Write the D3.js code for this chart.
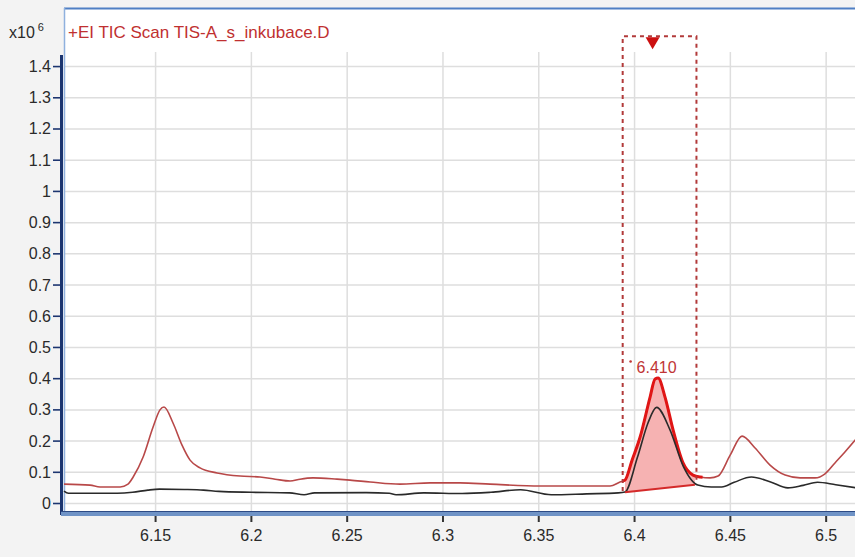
<!DOCTYPE html>
<html>
<head>
<meta charset="utf-8">
<script src="https://cdn.jsdelivr.net/npm/d3@7"></script>
<style>
  html, body { margin: 0; padding: 0; background: #f3f3f3; }
  svg { display: block; }
  text { font-family: "Liberation Sans", Arial, sans-serif; }
</style>
</head>
<body>
<svg id="chart" width="855" height="557"></svg>
<script>
// ---------- data ----------
const titleText = "+EI TIC Scan TIS-A_s_inkubace.D";
const xTicks = [6.15, 6.2, 6.25, 6.3, 6.35, 6.4, 6.45, 6.5];
const xTickLabels = ["6.15", "6.2", "6.25", "6.3", "6.35", "6.4", "6.45", "6.5"];
const yTicks = [0, 0.1, 0.2, 0.3, 0.4, 0.5, 0.6, 0.7, 0.8, 0.9, 1, 1.1, 1.2, 1.3, 1.4];
const yTickLabels = ["0", "0.1", "0.2", "0.3", "0.4", "0.5", "0.6", "0.7", "0.8", "0.9", "1", "1.1", "1.2", "1.3", "1.4"];

// red trace (TIC, x10^6)
const redTime = [6.1022, 6.1158, 6.121, 6.1315, 6.1356, 6.1383, 6.1435, 6.1487, 6.1523, 6.1544, 6.1591, 6.1638, 6.168, 6.1732, 6.1821, 6.1941, 6.2045, 6.2124, 6.2202, 6.2254, 6.2322, 6.2447, 6.2515, 6.262, 6.2776, 6.2933, 6.3089, 6.3246, 6.3507, 6.3716, 6.3872, 6.3924, 6.395, 6.3987, 6.4029, 6.4081, 6.4107, 6.4123, 6.4159, 6.4201, 6.4253, 6.4305, 6.4342, 6.4394, 6.4436, 6.4499, 6.4561, 6.4629, 6.4707, 6.4786, 6.4864, 6.4942, 6.4994, 6.5046, 6.5098, 6.5161];
const redValue = [0.062, 0.059, 0.053, 0.053, 0.062, 0.085, 0.149, 0.245, 0.300, 0.309, 0.258, 0.187, 0.139, 0.114, 0.098, 0.088, 0.085, 0.078, 0.072, 0.078, 0.082, 0.078, 0.075, 0.069, 0.062, 0.066, 0.066, 0.062, 0.056, 0.056, 0.056, 0.069, 0.075, 0.139, 0.213, 0.341, 0.399, 0.402, 0.341, 0.236, 0.130, 0.091, 0.085, 0.082, 0.088, 0.155, 0.216, 0.178, 0.123, 0.091, 0.082, 0.082, 0.095, 0.130, 0.165, 0.210];

// black trace
const blackTime = [6.1022, 6.1045, 6.130, 6.138, 6.146, 6.152, 6.165, 6.175, 6.183, 6.200, 6.220, 6.2275, 6.233, 6.260, 6.272, 6.2755, 6.290, 6.310, 6.325, 6.3405, 6.3565, 6.375, 6.3915, 6.395, 6.4015, 6.407, 6.4115, 6.4185, 6.4255, 6.433, 6.440, 6.4455, 6.452, 6.461, 6.471, 6.480, 6.488, 6.4955, 6.505, 6.5161];
const blackValue = [0.040, 0.033, 0.033, 0.036, 0.043, 0.046, 0.045, 0.043, 0.039, 0.036, 0.034, 0.028, 0.034, 0.035, 0.033, 0.028, 0.034, 0.032, 0.036, 0.044, 0.028, 0.031, 0.034, 0.037, 0.148, 0.258, 0.308, 0.236, 0.118, 0.059, 0.053, 0.053, 0.068, 0.085, 0.069, 0.050, 0.058, 0.068, 0.060, 0.050];

// integrated peak
const peakLabel = "6.410";
const peakTime = 6.4115;
const integStart = [6.395, 0.036];
const integEnd = [6.4315, 0.060];
const boxLeft = 6.3938, boxRight = 6.4323, boxTop = 1.497;
const boxLeftBottom = 0.040, boxRightBottom = 0.075;

// ---------- layout ----------
const W = 855, H = 557;
const plot = { left: 64, right: 857, top: 8, bottom: 512 };
const svg = d3.select("#chart");

const x = d3.scaleLinear().domain([6.1022, 6.5161]).range([plot.left, plot.right]);
const y = d3.scaleLinear().domain([-0.0272, 1.5877]).range([plot.bottom, plot.top]);

svg.append("rect").attr("x", 0).attr("y", 0).attr("width", W).attr("height", H).attr("fill", "#f3f3f3");
svg.append("rect").attr("x", plot.left).attr("y", plot.top)
  .attr("width", plot.right - plot.left).attr("height", plot.bottom - plot.top)
  .attr("fill", "#ffffff");

// grid
const gridTop = 52;
svg.append("g").selectAll("line").data(yTicks).join("line")
  .attr("x1", plot.left).attr("x2", plot.right)
  .attr("y1", d => y(d)).attr("y2", d => y(d))
  .attr("stroke", "#dedede").attr("stroke-width", 1.5);
svg.append("g").selectAll("line").data(xTicks).join("line")
  .attr("x1", d => x(d)).attr("x2", d => x(d))
  .attr("y1", gridTop).attr("y2", plot.bottom)
  .attr("stroke", "#dedede").attr("stroke-width", 1.5);

// frame
svg.append("line").attr("x1", plot.left).attr("x2", W).attr("y1", plot.top + 0.5).attr("y2", plot.top + 0.5)
  .attr("stroke", "#4f7fc4").attr("stroke-width", 2);
svg.append("line").attr("x1", plot.left + 0.5).attr("x2", plot.left + 0.5).attr("y1", plot.top).attr("y2", plot.bottom)
  .attr("stroke", "#8fb1de").attr("stroke-width", 1.5);

// curves
const line = d3.line().x(d => x(d[0])).y(d => y(d[1])).curve(d3.curveMonotoneX);
const redData = redTime.map((t, i) => [t, redValue[i]]);
const blackData = blackTime.map((t, i) => [t, blackValue[i]]);

function interp(data, t) {
  for (let i = 1; i < data.length; i++) {
    if (data[i][0] >= t) {
      const a = data[i - 1], b = data[i];
      const f = (t - a[0]) / (b[0] - a[0]);
      return a[1] + f * (b[1] - a[1]);
    }
  }
  return data[data.length - 1][1];
}
const baseAt = t => integStart[1] + (t - integStart[0]) / (integEnd[0] - integStart[0]) * (integEnd[1] - integStart[1]);
const peakData = [[integStart[0], interp(redData, integStart[0])]]
  .concat(redData.filter(d => d[0] > integStart[0] && d[0] < integEnd[0]))
  .concat([[integEnd[0], interp(redData, integEnd[0])]]);

const area = d3.area().x(d => x(d[0])).y0(d => y(baseAt(d[0]))).y1(d => y(d[1])).curve(d3.curveMonotoneX);
svg.append("path").datum(peakData).attr("d", area).attr("fill", "#f6b2b2");

svg.append("path").datum(redData).attr("d", line)
  .attr("fill", "none").attr("stroke", "#b84848").attr("stroke-width", 1.6);

// highlighted integrated part
const hiData = [[integStart[0] - 0.0015, interp(redData, integStart[0] - 0.0015)]]
  .concat(redData.filter(d => d[0] > integStart[0] - 0.0015 && d[0] < integEnd[0] + 0.004))
  .concat([[integEnd[0] + 0.004, interp(redData, integEnd[0] + 0.004)]]);
svg.append("path").datum(hiData).attr("d", line)
  .attr("fill", "none").attr("stroke", "#e01515").attr("stroke-width", 3);

svg.append("path").datum(blackData).attr("d", line)
  .attr("fill", "none").attr("stroke", "#2a2a2a").attr("stroke-width", 1.6);

// baseline
svg.append("line")
  .attr("x1", x(integStart[0])).attr("y1", y(integStart[1]))
  .attr("x2", x(integEnd[0])).attr("y2", y(integEnd[1]))
  .attr("stroke", "#d42a2a").attr("stroke-width", 2);

// dashed integration box
const boxPath = d3.path();
boxPath.moveTo(x(boxLeft), y(boxLeftBottom));
boxPath.lineTo(x(boxLeft), y(boxTop));
boxPath.lineTo(x(boxRight), y(boxTop));
boxPath.lineTo(x(boxRight), y(boxRightBottom));
svg.append("path").attr("d", boxPath.toString())
  .attr("fill", "none").attr("stroke", "#b23a3a").attr("stroke-width", 2)
  .attr("stroke-dasharray", "4,4");

// triangle marker
const tx = x(peakTime) - 4, ty = y(boxTop);
svg.append("path")
  .attr("d", `M${tx - 7},${ty + 1}L${tx + 7},${ty + 1}L${tx},${ty + 13}Z`)
  .attr("fill", "#cc1010");

// peak label
svg.append("circle").attr("cx", x(peakTime) - 26).attr("cy", y(0.455)).attr("r", 1.3).attr("fill", "#c03535");
svg.append("text").attr("x", x(peakTime)).attr("y", y(0.418))
  .attr("text-anchor", "middle").attr("font-size", 16).attr("fill", "#c03535")
  .text(peakLabel);

// y axis
svg.append("line").attr("x1", plot.left - 2.5).attr("x2", plot.left - 2.5).attr("y1", 55).attr("y2", plot.bottom + 3)
  .attr("stroke", "#1c3570").attr("stroke-width", 3);
const yAxis = svg.append("g");
yAxis.selectAll("line").data(yTicks).join("line")
  .attr("x1", plot.left - 11).attr("x2", plot.left - 3)
  .attr("y1", d => y(d)).attr("y2", d => y(d))
  .attr("stroke", "#1c3570").attr("stroke-width", 1.6);
yAxis.selectAll("text").data(yTicks).join("text")
  .attr("x", plot.left - 13).attr("y", d => y(d) + 5.5)
  .attr("text-anchor", "end").attr("font-size", 16).attr("fill", "#2a2a2a")
  .text((d, i) => yTickLabels[i]);

// x axis bar
svg.append("rect").attr("x", plot.left - 3).attr("y", plot.bottom - 1).attr("width", W).attr("height", 5)
  .attr("fill", "#6f93c6");
svg.append("line").attr("x1", plot.left - 3).attr("x2", W).attr("y1", plot.bottom - 0.5).attr("y2", plot.bottom - 0.5)
  .attr("stroke", "#2c4a84").attr("stroke-width", 1.2);
const xAxis = svg.append("g");
xAxis.selectAll("line").data(xTicks).join("line")
  .attr("x1", d => x(d)).attr("x2", d => x(d))
  .attr("y1", plot.bottom + 4).attr("y2", plot.bottom + 10)
  .attr("stroke", "#333").attr("stroke-width", 2);
xAxis.selectAll("text").data(xTicks).join("text")
  .attr("x", d => x(d)).attr("y", 541)
  .attr("text-anchor", "middle").attr("font-size", 16).attr("fill", "#2a2a2a")
  .text((d, i) => xTickLabels[i]);

// y unit & title
const unit = svg.append("text").attr("x", 9).attr("y", 38).attr("font-size", 16).attr("fill", "#2a2a2a");
unit.append("tspan").text("x10");
unit.append("tspan").attr("font-size", 11).attr("dy", -7).attr("dx", 3).text("6");
svg.append("text").attr("x", 68).attr("y", 38).attr("font-size", 17).attr("fill", "#c03030")
  .text(titleText);
</script>
</body>
</html>
